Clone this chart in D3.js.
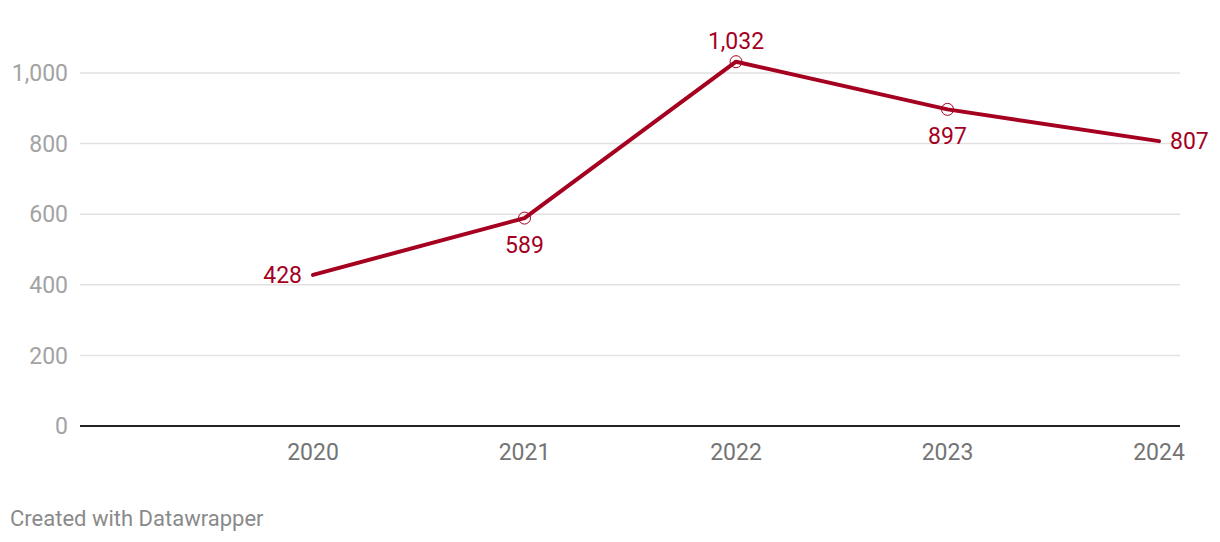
<!DOCTYPE html>
<html><head><meta charset="utf-8">
<script src="https://cdn.jsdelivr.net/npm/d3@7"></script>
<style>body{margin:0;background:#fff;font-family:Roboto,sans-serif}</style>
</head><body><svg id="c" width="1220" height="542"></svg>
<script>
const years = [2020, 2021, 2022, 2023, 2024];
const values = [428, 589, 1032, 897, 807];
const yTicks = [0, 200, 400, 600, 800, 1000];
const labelPos = ["left", "below", "above", "below", "right"];
const markers = [false, true, true, true, false];

const svg = d3.select("#c");
const x = d3.scaleLinear().domain([2019, 2024]).range([101.5, 1159]);
const y = d3.scaleLinear().domain([0, 1000]).range([426, 73]);
const red = "#a5001f";

const fmt = d3.format(",");
// grid
svg.append("g").selectAll("line").data(yTicks.filter(d => d > 0)).join("line")
  .attr("x1", 80).attr("x2", 1180).attr("y1", d => y(d)).attr("y2", d => y(d))
  .attr("stroke", "#e1e1e1").attr("stroke-width", 1.5);
svg.append("g").selectAll("text").data(yTicks).join("text")
  .attr("x", 68).attr("y", d => y(d)).attr("dy", "0.36em").attr("text-anchor", "end")
  .attr("fill", "#a3a3a3").attr("font-size", 23).text(d => fmt(d));
// baseline
svg.append("line").attr("x1", 80).attr("x2", 1180).attr("y1", y(0)).attr("y2", y(0))
  .attr("stroke", "#222").attr("stroke-width", 2);
// x labels
svg.append("g").selectAll("text").data(years).join("text")
  .attr("x", d => x(d)).attr("y", 460).attr("text-anchor", "middle")
  .attr("fill", "#747474").attr("font-size", 23).text(d => d);
// line
const data = years.map((yr, i) => ({yr, v: values[i], pos: labelPos[i], m: markers[i]}));
svg.append("path").datum(data)
  .attr("d", d3.line().x(d => x(d.yr)).y(d => y(d.v)))
  .attr("fill", "none").attr("stroke", red).attr("stroke-width", 4)
  .attr("stroke-linejoin", "round").attr("stroke-linecap", "round");
svg.append("g").selectAll("circle").data(data.filter(d => d.m)).join("circle")
  .attr("cx", d => x(d.yr)).attr("cy", d => y(d.v)).attr("r", 6)
  .attr("fill", "none").attr("stroke", red).attr("stroke-width", 1);
svg.append("g").selectAll("text").data(data).join("text")
  .attr("x", d => d.pos === "left" ? x(d.yr) - 11 : d.pos === "right" ? x(d.yr) + 11 : x(d.yr))
  .attr("y", d => d.pos === "above" ? y(d.v) - 13 : d.pos === "below" ? y(d.v) + 35 : y(d.v))
  .attr("dy", d => (d.pos === "left" || d.pos === "right") ? "0.36em" : 0)
  .attr("text-anchor", d => d.pos === "left" ? "end" : d.pos === "right" ? "start" : "middle")
  .attr("fill", red).attr("font-size", 23).text(d => fmt(d.v));
svg.append("text").attr("x", 10).attr("y", 526).attr("fill", "#8a8a8a")
  .attr("font-size", 22).text("Created with Datawrapper");
</script></body></html>
